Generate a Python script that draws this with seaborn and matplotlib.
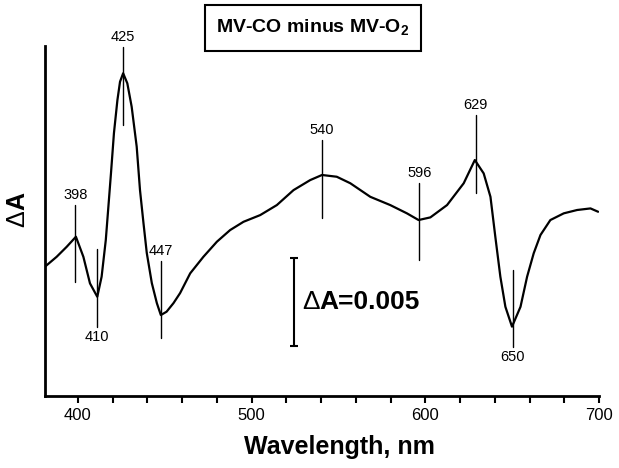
import pandas as pd
import matplotlib.pyplot as plt
import seaborn as sb
from matplotlib.patches import Rectangle
from matplotlib.ticker import MultipleLocator

# spectrum (wavelength nm, delta A)
wavelength = [381, 387.7, 393.5, 398.8, 403.1, 406.9, 411.1, 413.6, 416, 417.5,
              419, 420.7, 422.7, 424.2, 426, 428.4, 430.9, 433.8, 435.7, 437.7,
              439.6, 442.5, 445.4, 447.7, 451, 455, 458.8, 464.6, 472.2, 480,
              487.6, 495.3, 504.9, 514.5, 524.1, 533.7, 540.5, 549, 556.8, 568.3,
              579.8, 589.4, 596.1, 602.9, 612.5, 622.1, 628.5, 633.6, 637.5, 640.3,
              643.2, 646.1, 649.9, 654.8, 658.6, 662.4, 666.3, 672, 679.7, 687.4,
              695.1, 699.5]
delta_a = [0.00735, 0.00791, 0.00848, 0.00905, 0.00791, 0.00640, 0.00564, 0.00678, 0.00886, 0.01076,
           0.01267, 0.01494, 0.01682, 0.01786, 0.01834, 0.01777, 0.01644, 0.01417, 0.01170, 0.00983,
           0.00813, 0.00642, 0.00528, 0.00460, 0.00479, 0.00528, 0.00585, 0.00697, 0.00791, 0.00877,
           0.00943, 0.00990, 0.01028, 0.01085, 0.01170, 0.01227, 0.01256, 0.01246, 0.01209, 0.01132,
           0.01085, 0.01038, 0.01000, 0.01015, 0.01085, 0.01209, 0.01341, 0.01265, 0.01132, 0.00905,
           0.00678, 0.00507, 0.00394, 0.00507, 0.00678, 0.00811, 0.00915, 0.01000, 0.01038, 0.01057,
           0.01066, 0.01047]

peak_labels = ["398", "410", "425", "447", "540", "596", "629", "650"]
peak_wl = [398.5, 411, 426, 447.8, 540.6, 596.6, 629, 650.3]
mark_lo = [0.00648, 0.00392, 0.01540, 0.00330, 0.01011, 0.00773, 0.01153, 0.00278]
mark_hi = [0.01085, 0.00835, 0.01983, 0.00767, 0.01455, 0.01210, 0.01597, 0.00716]
label_above = [True, False, True, True, True, True, True, False]

scale_wl = 524.5
scale_lo = 0.00284
scale_hi = 0.00784

sb.set_theme(style="ticks")
plt.rcParams['font.family'] = ['Liberation Sans', 'DejaVu Sans']
plt.rcParams['mathtext.fontset'] = 'custom'
plt.rcParams['mathtext.rm'] = 'Liberation Sans'
plt.rcParams['mathtext.bf'] = 'Liberation Sans:bold'
plt.rcParams['text.color'] = 'black'
plt.rcParams['xtick.color'] = 'black'
plt.rcParams['xtick.labelcolor'] = 'black'

df = pd.DataFrame({"wavelength": wavelength, "dA": delta_a})

fig = plt.figure(figsize=(6.19, 4.68), dpi=100)
ax = fig.add_axes([45 / 619, 1 - 396 / 468, 554 / 619, 350 / 468])

sb.lineplot(data=df, x="wavelength", y="dA", color="black", linewidth=1.6, ax=ax)

ax.set_xlim(381, 700)
ax.set_ylim(0, 0.01989)
ax.xaxis.set_major_locator(MultipleLocator(100))
ax.xaxis.set_minor_locator(MultipleLocator(20))
ax.set_yticks([])
ax.tick_params(axis='x', which='both', direction='out', length=5, width=1.5,
               color='black', labelcolor='black', labelsize=12, pad=4)
ax.set(xlabel=None, ylabel=None)
sb.despine(ax=ax)
for side in ['left', 'bottom']:
    ax.spines[side].set_linewidth(2)
    ax.spines[side].set_color('black')

# peak markers
for lab, wl, lo, hi, above in zip(peak_labels, peak_wl, mark_lo, mark_hi, label_above):
    ax.plot([wl, wl], [lo, hi], color='black', linewidth=1.0)
    if above:
        ax.annotate(lab, xy=(wl, hi), xytext=(0, 2), textcoords='offset points',
                    ha='center', va='bottom', fontsize=10.5, color='black', annotation_clip=False)
    else:
        ax.annotate(lab, xy=(wl, lo), xytext=(0, -2), textcoords='offset points',
                    ha='center', va='top', fontsize=10.5, color='black', annotation_clip=False)

# scale bar
ax.errorbar([scale_wl], [(scale_lo + scale_hi) / 2], yerr=[(scale_hi - scale_lo) / 2],
            color='black', capsize=3, elinewidth=1.5, capthick=1.5)
ax.text(529, (scale_lo + scale_hi) / 2, 'Δ', fontsize=19, color='black',
        ha='left', va='center')
ax.annotate('A=0.005', xy=(529, (scale_lo + scale_hi) / 2), xytext=(12.5, 0),
            textcoords='offset points', fontsize=19, fontweight='bold', color='black',
            ha='left', va='center')

fig.text(339 / 619, 1 - 447 / 468, 'Wavelength, nm', fontsize=18, fontweight='bold',
         color='black', ha='center', va='center')
fig.text(17 / 619, 1 - 218.5 / 468, 'Δ', fontsize=18, color='black',
         rotation=90, ha='center', va='center')
fig.text(17 / 619, 1 - 201.5 / 468, 'A', fontsize=18, fontweight='bold', color='black',
         rotation=90, ha='center', va='center')

fig.add_artist(Rectangle((205 / 619, 1 - 51 / 468), 216 / 619, 46 / 468,
                         transform=fig.transFigure, fill=False, edgecolor='black', linewidth=1.5))
fig.text(313 / 619, 1 - 28 / 468, r'MV-CO minus MV-O$_\mathbf{2}$', fontsize=14,
         fontweight='bold', color='black', ha='center', va='center')

plt.savefig("out.png", dpi=100)
